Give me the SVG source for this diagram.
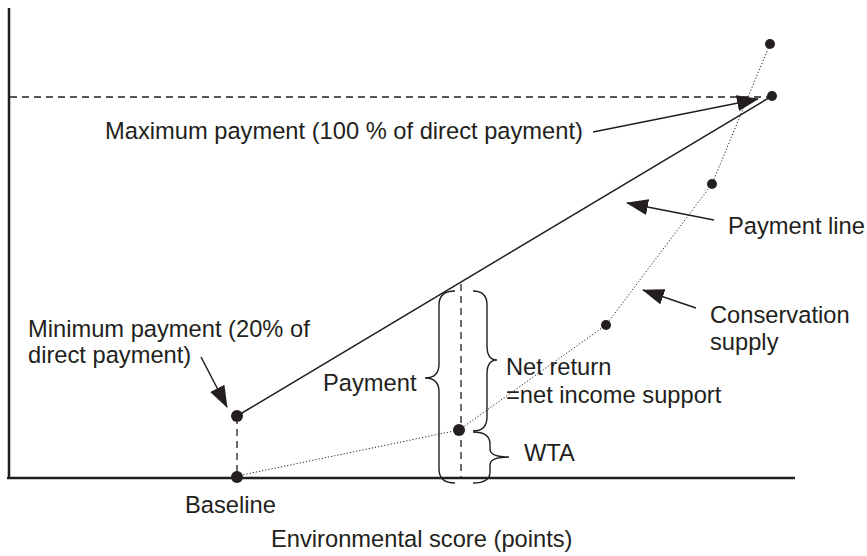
<svg xmlns="http://www.w3.org/2000/svg" width="867" height="556" viewBox="0 0 867 556">
<style>
text{font-family:"Liberation Sans",Arial,sans-serif;font-size:23.7px;fill:#231f20}
.ln{stroke:#231f20;stroke-width:1.5;fill:none}
.ax{stroke:#231f20;stroke-width:2.5;fill:none}
.dash{stroke:#231f20;stroke-width:1.3;stroke-dasharray:7,5;fill:none}
.dot{stroke:#231f20;stroke-width:1;stroke-dasharray:1.2,2;fill:none}
.br{stroke:#231f20;stroke-width:1.4;fill:none}
.pt{fill:#231f20}
</style>
<defs>
<marker id="ah" markerUnits="userSpaceOnUse" markerWidth="22" markerHeight="16" viewBox="0 0 22 16" refX="21" refY="8" orient="auto">
<path d="M0,0 L22,8 L0,16 Z" fill="#231f20"/>
</marker>
</defs>
<g id="axes">
<line class="ax" x1="9" y1="8" x2="9" y2="479"/>
<line class="ax" x1="7" y1="478" x2="795" y2="478"/>
</g>
<g id="connectors">
<line class="dash" x1="10" y1="97" x2="770" y2="97"/>
<line class="dash" x1="237" y1="417" x2="237" y2="476"/>
<line class="dash" x1="461" y1="284" x2="461" y2="477"/>
<line id="payment-line" class="ln" x1="237" y1="416" x2="772" y2="96"/>
<polyline id="conservation-supply" class="dot" points="237,476 459,430 606,325 712,184 770,44"/>
<line class="ln" x1="593" y1="132" x2="758" y2="99" marker-end="url(#ah)"/>
<line class="ln" x1="714" y1="220" x2="627" y2="203" marker-end="url(#ah)"/>
<line class="ln" x1="696" y1="308" x2="643" y2="290" marker-end="url(#ah)"/>
<line class="ln" x1="201" y1="357" x2="227" y2="407" marker-end="url(#ah)"/>
</g>
<g id="points">
<circle class="pt" cx="770" cy="44" r="5"/>
<circle class="pt" cx="772" cy="96" r="5"/>
<circle class="pt" cx="712" cy="184" r="5"/>
<circle class="pt" cx="606" cy="325" r="5"/>
<circle class="pt" cx="459" cy="430" r="6"/>
<circle class="pt" cx="237" cy="416" r="6"/>
<circle class="pt" cx="237" cy="477" r="6"/>
</g>
<g id="braces">
<path class="br" d="M455,291 Q439,291 439,305 L439,364 Q439,378 425,378 Q439,378 439,392 L439,469 Q439,483 455,483"/>
<path class="br" d="M473,291 Q487,291 487,305 L487,346 Q487,360 497,360 Q487,360 487,374 L487,417 Q487,431 473,431"/>
<path class="br" d="M473,432 Q490,432 490,444 L490,449 Q490,457 509,457 Q490,457 490,465 L490,472 Q490,483 473,483"/>
</g>
<g id="labels">
<text x="105" y="139">Maximum payment (100 % of direct payment)</text>
<text x="728" y="234">Payment line</text>
<text x="710" y="323">Conservation</text>
<text x="710" y="350">supply</text>
<text x="506" y="375">Net return</text>
<text x="506" y="403">=net income support</text>
<text x="524" y="461">WTA</text>
<text x="323" y="391">Payment</text>
<text x="28" y="337">Minimum payment (20% of</text>
<text x="28" y="363">direct payment)</text>
<text x="185" y="513">Baseline</text>
<text x="271" y="547">Environmental score (points)</text>
</g>
</svg>
